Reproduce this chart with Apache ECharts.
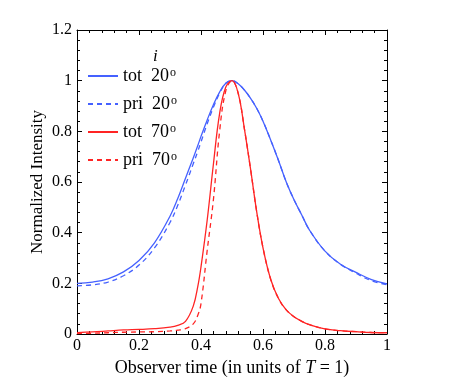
<!DOCTYPE html>
<html>
<head>
<meta charset="utf-8">
<script src="https://cdn.jsdelivr.net/npm/echarts@6/dist/echarts.min.js"></script>
<style>
  html, body { margin: 0; padding: 0; background: #fff; }
  #chart { width: 449px; height: 382px; }
</style>
</head>
<body>
<div id="chart"></div>
<script>
var chartDom = document.getElementById('chart');
var myChart = echarts.init(chartDom);

// observer time (in units of T)
var time = [0, 0.05, 0.1, 0.15, 0.2, 0.25, 0.3, 0.325, 0.35, 0.375, 0.39, 0.4, 0.42, 0.44, 0.46, 0.48,
  0.5, 0.52, 0.54, 0.56, 0.58, 0.6, 0.625, 0.65, 0.675, 0.7, 0.725, 0.75, 0.8, 0.85, 0.9, 0.95, 1];

var tot20 = [0.2, 0.205, 0.218, 0.245, 0.29, 0.36, 0.465, 0.535, 0.615, 0.695, 0.745, 0.78, 0.845, 0.905, 0.955, 0.99,
  1.0, 0.988, 0.963, 0.93, 0.89, 0.84, 0.765, 0.685, 0.6, 0.53, 0.47, 0.41, 0.327, 0.275, 0.243, 0.215, 0.198];
var pri20 = [0.19, 0.194, 0.205, 0.23, 0.272, 0.34, 0.44, 0.508, 0.588, 0.672, 0.722, 0.758, 0.83, 0.895, 0.95, 0.99,
  1.0, 0.988, 0.963, 0.93, 0.89, 0.84, 0.765, 0.685, 0.6, 0.53, 0.47, 0.41, 0.327, 0.275, 0.24, 0.21, 0.195];
var tot70 = [0.005, 0.008, 0.012, 0.016, 0.018, 0.021, 0.027, 0.034, 0.05, 0.11, 0.19, 0.265, 0.45, 0.67, 0.87, 0.975,
  1.0, 0.95, 0.81, 0.65, 0.48, 0.34, 0.215, 0.14, 0.095, 0.068, 0.05, 0.037, 0.02, 0.013, 0.009, 0.006, 0.005];
var pri70 = [0.002, 0.003, 0.005, 0.007, 0.008, 0.009, 0.012, 0.015, 0.021, 0.04, 0.075, 0.12, 0.33, 0.53, 0.8, 0.96,
  1.0, 0.95, 0.81, 0.65, 0.48, 0.34, 0.215, 0.14, 0.095, 0.068, 0.05, 0.037, 0.02, 0.013, 0.009, 0.006, 0.005];

var names = ['tot  20', 'pri  20', 'tot  70', 'pri  70'];
var xTicks = [0, 0.2, 0.4, 0.6, 0.8, 1];
var yTicks = [0, 0.2, 0.4, 0.6, 0.8, 1, 1.2];

var blue = '#4561ff';
var red = '#ff2424';
var font = 'Liberation Serif';

function pairs(ys) {
  return time.map(function (t, i) { return [t, ys[i]]; });
}

function mkSeries(name, ys, color, dashed) {
  return {
    name: name,
    type: 'line',
    data: pairs(ys),
    showSymbol: false,
    symbol: 'none',
    smooth: 0.4,
    lineStyle: { color: color, width: 1.3, type: dashed ? [5, 4] : 'solid' },
    itemStyle: { color: color },
    animation: false
  };
}

function axisBase(extra) {
  var base = {
    type: 'value',
    axisLine: { show: true, onZero: false, lineStyle: { color: '#000', width: 1 } },
    axisTick: { show: true, inside: true, length: 5, lineStyle: { color: '#000' } },
    minorTick: { show: true, splitNumber: 5, length: 3, lineStyle: { color: '#000' } },
    splitLine: { show: false },
    minorSplitLine: { show: false }
  };
  return Object.assign(base, extra);
}

var xAxisOpts = { min: xTicks[0], max: xTicks[xTicks.length - 1], interval: 0.2 };
var yAxisOpts = { min: yTicks[0], max: yTicks[yTicks.length - 1], interval: 0.2 };

myChart.setOption({
  backgroundColor: '#fff',
  animation: false,
  title: {
    text: 'i',
    left: 148,
    top: 43,
    textStyle: { fontFamily: font, fontStyle: 'italic', fontWeight: 'normal', fontSize: 17, color: '#000' }
  },
  legend: {
    data: names,
    orient: 'vertical',
    left: 82,
    top: 62,
    itemWidth: 30,
    itemHeight: 14,
    itemGap: 10,
    itemStyle: { color: 'transparent', borderWidth: 0, opacity: 0 },
    formatter: function (n) { return '{a|' + n + '}{s|o}'; },
    textStyle: {
      fontFamily: font,
      fontSize: 18,
      color: '#000',
      rich: {
        a: { fontFamily: font, fontSize: 18, color: '#000', lineHeight: 18 },
        s: { fontFamily: font, fontSize: 12, color: '#000', verticalAlign: 'top', lineHeight: 12, padding: [0, 0, 0, 1] }
      }
    }
  },
  grid: { left: 77, right: 62, top: 30, bottom: 44 },
  xAxis: [
    axisBase(Object.assign({
      position: 'bottom',
      name: '{n|Observer time (in units of }{it|T}{n| = 1)}',
      nameLocation: 'middle',
      nameGap: 25,
      nameTextStyle: {
        rich: {
          n: { fontFamily: font, fontSize: 18, color: '#000' },
          it: { fontFamily: font, fontSize: 18, color: '#000', fontStyle: 'italic' }
        }
      },
      axisLabel: { fontFamily: font, fontSize: 16, color: '#000', margin: 4 }
    }, xAxisOpts)),
    axisBase(Object.assign({
      position: 'top',
      axisLabel: { show: false }
    }, xAxisOpts))
  ],
  yAxis: [
    axisBase(Object.assign({
      position: 'left',
      name: 'Normalized Intensity',
      nameLocation: 'middle',
      nameGap: 31,
      nameMoveOverlap: false,
      nameTextStyle: { fontFamily: font, fontSize: 17, color: '#000' },
      axisLabel: { fontFamily: font, fontSize: 16, color: '#000', margin: 5 }
    }, yAxisOpts)),
    axisBase(Object.assign({
      position: 'right',
      axisLabel: { show: false }
    }, yAxisOpts))
  ],
  series: [
    mkSeries(names[0], tot20, blue, false),
    mkSeries(names[1], pri20, blue, true),
    mkSeries(names[2], tot70, red, false),
    mkSeries(names[3], pri70, red, true)
  ]
});
</script>
</body>
</html>
